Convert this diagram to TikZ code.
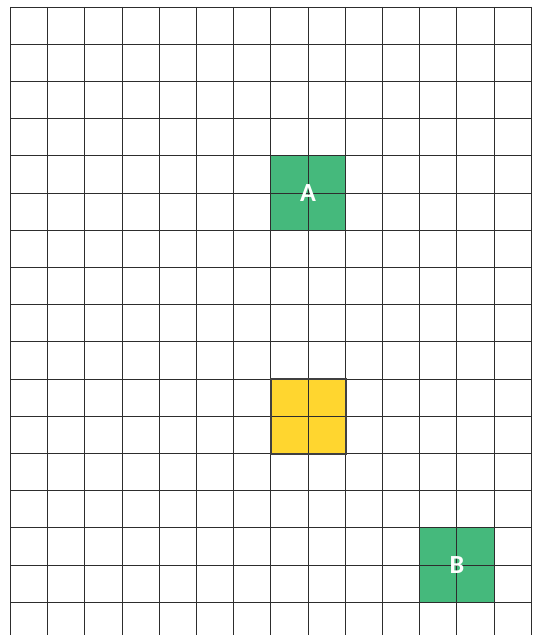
\documentclass[tikz,border=0pt]{standalone}
\usepackage{fontspec}
\setmainfont{Carlito}
\usepackage{tikz}
\usetikzlibrary{positioning,backgrounds}
\usepackage{xcolor}
\definecolor{cellgreen}{RGB}{69,185,124}
\definecolor{cellyellow}{RGB}{255,214,47}
\definecolor{gridgray}{RGB}{45,45,45}
\tikzset{
  cell/.style     ={rectangle, minimum size=2cm, inner sep=0pt, draw=none,
                    font=\fontsize{20}{20}\selectfont\bfseries, text=white},
  gridline/.style ={draw=gridgray, line width=0.7pt},
}

\begin{document}
\begin{tikzpicture}[x=1cm,y=1cm]
  \useasboundingbox (-0.282,0.188) rectangle (14.18,-16.88);
  \node[cell] (a)   at (8,-5)  {A};
  \node[cell] (obs) at (8,-11) {};
  \node[cell] (b)   at (12,-15) {B};
  \begin{scope}[on background layer]
    \fill[cellgreen]  (a.north west) rectangle (a.south east);
    \fill[cellyellow] (obs.north west) rectangle (obs.south east);
    \fill[cellgreen]  (b.north west) rectangle (b.south east);
    % Raster
    \foreach \i in {0,...,14}
      \draw[gridline] (\i,0) -- (\i,-16.88);
    \foreach \j in {0,...,16}
      \draw[gridline] (0,-\j) -- (14,-\j);
    \draw[gridline, line width=1.6pt, draw=black!75] (obs.north west) rectangle (obs.south east);
  \end{scope}
\end{tikzpicture}
\end{document}
